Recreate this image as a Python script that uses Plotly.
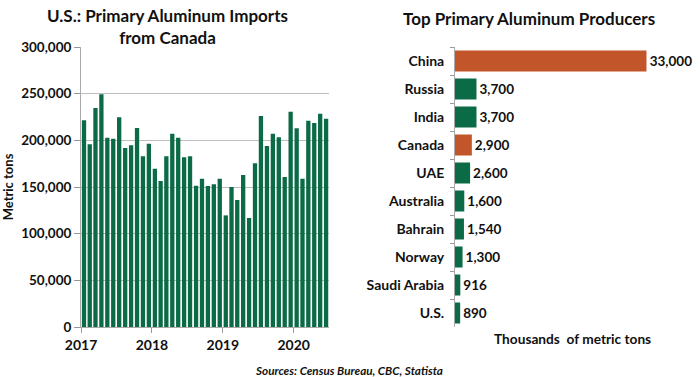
import pandas as pd
import plotly.graph_objects as go

# ---- data ----
months = pd.date_range("2017-01-01", periods=42, freq="MS")
imports = [221400, 195700, 234600, 249300, 202900, 201800, 224600, 191800, 194600, 213200,
           182900, 196400, 169600, 156400, 182900, 207100, 202900, 181800, 182900, 151400,
           158900, 151100, 152900, 158900, 119600, 150000, 136100, 162900, 116800, 175400,
           226100, 193900, 207100, 203200, 160700, 230700, 212900, 158900, 221100, 218600,
           228600, 223200]

countries = ["China", "Russia", "India", "Canada", "UAE", "Australia", "Bahrain", "Norway",
             "Saudi Arabia", "U.S."]
production = [33000, 3700, 3700, 2900, 2600, 1600, 1540, 1300, 916, 890]
highlight = ["China", "Canada"]

GREEN = "#0c6b47"
ORANGE = "#c2562a"
FONT = "Lato"

fig = go.Figure()

fig.add_trace(go.Bar(
    x=months, y=imports, xaxis="x", yaxis="y",
    marker=dict(color=GREEN, line=dict(width=0)),
    xperiod="M1", xperiodalignment="middle",
    showlegend=False,
))

colors = [ORANGE if c in highlight else GREEN for c in countries]
fig.add_trace(go.Bar(
    x=production, y=countries, orientation="h", xaxis="x2", yaxis="y2",
    marker=dict(color=colors, line=dict(width=0)),
    text=[f"{v:,}" for v in production], textposition="outside",
    textfont=dict(family=FONT, size=13.5, color="#111", weight="bold"),
    cliponaxis=False, showlegend=False,
))

H = 377
W = 700
ydom = [(H - 327) / H, (H - 47) / H]

fig.update_layout(
    width=W, height=H,
    margin=dict(l=0, r=0, t=0, b=0, autoexpand=False),
    paper_bgcolor="white", plot_bgcolor="white",
    font=dict(family=FONT, size=12, color="#111"),
    bargap=0.25,
    xaxis=dict(
        domain=[81 / W, 329 / W],
        type="date",
        range=["2017-01-01", "2020-07-01"],
        tickvals=["2017-01-01", "2018-01-01", "2019-01-01", "2020-01-01"],
        tickformat="%Y",
        ticks="outside", ticklen=5, tickcolor="#999",
        showline=True, linecolor="#aaa", linewidth=1,
        showgrid=False, zeroline=False, automargin=False,
        tickfont=dict(family=FONT, size=14, weight="bold", color="#111"),
        anchor="y",
    ),
    yaxis=dict(
        domain=ydom,
        range=[0, 300000],
        dtick=50000,
        tickformat=",d",
        ticks="outside", ticklen=6, tickcolor="#999",
        showline=True, linecolor="#aaa", linewidth=1,
        showgrid=True, gridcolor="#bdbdbd", gridwidth=1,
        zeroline=False, automargin=False,
        tickfont=dict(family=FONT, size=13.5, weight="bold", color="#111"),
        title=dict(text="Metric tons", standoff=8,
                   font=dict(family=FONT, size=13, weight="bold", color="#111")),
        anchor="x",
    ),
    xaxis2=dict(
        domain=[455 / W, 646.7 / W],
        range=[0, 33000],
        visible=False, automargin=False,
        anchor="y2",
    ),
    yaxis2=dict(
        domain=ydom,
        autorange="reversed",
        type="category",
        tickson="boundaries",
        ticks="outside", ticklen=4, tickcolor="#999",
        showline=True, linecolor="#aaa", linewidth=1,
        showgrid=False, zeroline=False, automargin=False,
        ticklabelstandoff=7,
        tickfont=dict(family=FONT, size=14, weight="bold", color="#111"),
        anchor="x2",
    ),
    annotations=[
        dict(text="U.S.: Primary Aluminum Imports<br>from Canada", x=167 / W, y=1 - 3 / H,
             xref="paper", yref="paper", xanchor="center", yanchor="top",
             showarrow=False, align="center",
             font=dict(family=FONT, size=17, weight="bold", color="#111")),
        dict(text="Top Primary Aluminum Producers", x=529 / W, y=1 - 6 / H,
             xref="paper", yref="paper", xanchor="center", yanchor="top",
             showarrow=False,
             font=dict(family=FONT, size=17, weight="bold", color="#111")),
        dict(text="Thousands  of metric tons", x=572 / W, y=1 - 338 / H,
             xref="paper", yref="paper", xanchor="center", yanchor="middle",
             showarrow=False,
             font=dict(family=FONT, size=13.7, weight="bold", color="#111")),
        dict(text="Sources: Census Bureau, CBC, Statista", x=349 / W, y=1 - 370 / H,
             xref="paper", yref="paper", xanchor="center", yanchor="middle",
             showarrow=False,
             font=dict(family=FONT, size=11.7, weight="bold", style="italic", color="#111")),
    ],
)

fig.write_html("out.html",
               config={"displayModeBar": False},
               post_script="document.body.style.margin='0';document.body.style.overflow='hidden';")
